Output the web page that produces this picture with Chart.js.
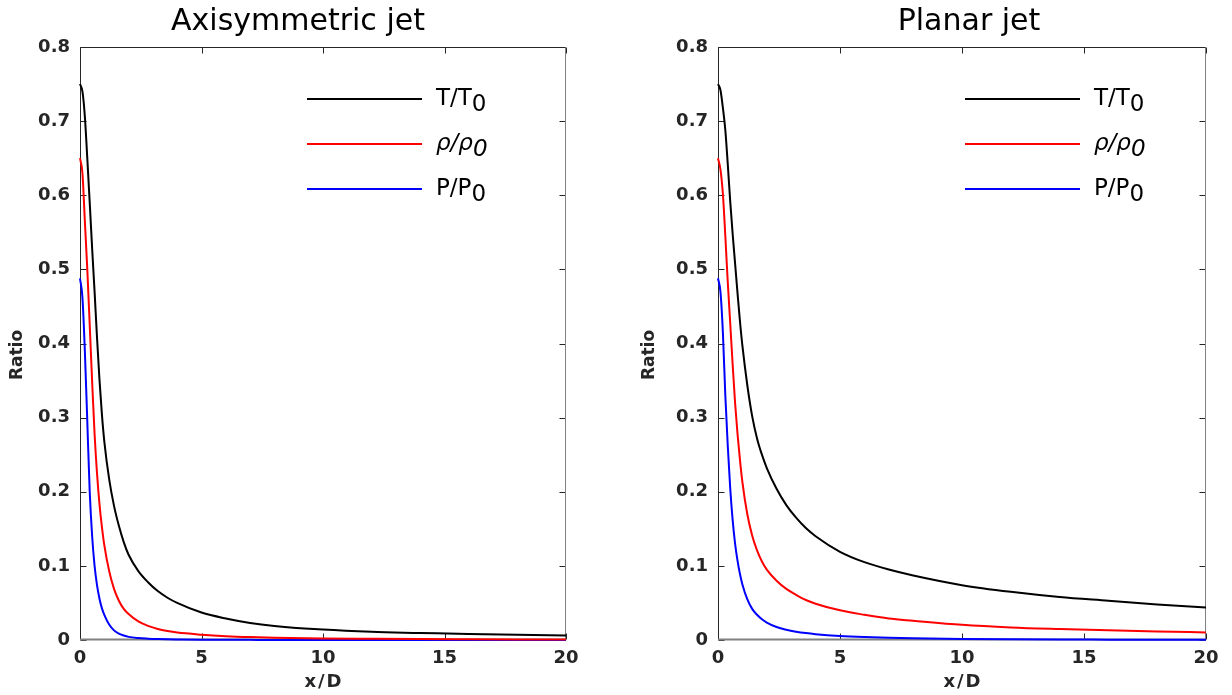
<!DOCTYPE html>
<html>
<head>
<meta charset="utf-8">
<script src="https://cdn.jsdelivr.net/npm/chart.js@4/dist/chart.umd.min.js"></script>
<style>
  body { margin: 0; background: #fff; }
  #wrap { position: relative; width: 1232px; height: 695px; }
  canvas { position: absolute; top: 0; }
</style>
</head>
<body>
<div id="wrap">
  <canvas id="axi" width="616" height="695" style="left:0"></canvas>
  <canvas id="planar" width="616" height="695" style="left:616px"></canvas>
</div>
<script>
// distance along the jet, x/D
var xD = [0, 0.1, 0.2, 0.3, 0.4, 0.5, 0.6, 0.7, 0.8, 0.9, 1.0,
          1.2, 1.4, 1.6, 1.8, 2.0, 2.4, 2.8, 3.2, 3.6, 4,
          5, 6, 7, 8, 10, 12, 14, 16, 18, 20];

// axisymmetric jet
var axiT   = [0.750, 0.740, 0.706, 0.650, 0.590, 0.528, 0.470, 0.408, 0.352, 0.305, 0.268,
              0.217, 0.181, 0.154, 0.132, 0.115, 0.093, 0.078, 0.066, 0.057, 0.050,
              0.037, 0.029, 0.023, 0.019, 0.014, 0.011, 0.0095, 0.008, 0.007, 0.006];
var axiRho = [0.650, 0.630, 0.565, 0.500, 0.425, 0.348, 0.278, 0.225, 0.184, 0.153, 0.128,
              0.093, 0.069, 0.053, 0.042, 0.035, 0.025, 0.019, 0.0148, 0.012, 0.010,
              0.0072, 0.0052, 0.0039, 0.0031, 0.0021, 0.0016, 0.0012, 0.0010, 0.0008, 0.0006];
var axiP   = [0.488, 0.462, 0.390, 0.295, 0.200, 0.140, 0.100, 0.074, 0.056, 0.043, 0.034,
              0.021, 0.013, 0.0085, 0.006, 0.0042, 0.0026, 0.0018, 0.0013, 0.001, 0.0008,
              0.0004, 0.0003, 0.0002, 0.0001, 0.0001, 0, 0, 0, 0, 0];

// planar jet
var planarT   = [0.750, 0.742, 0.718, 0.688, 0.642, 0.592, 0.548, 0.508, 0.468, 0.430, 0.397,
                 0.344, 0.302, 0.272, 0.250, 0.232, 0.204, 0.182, 0.165, 0.151, 0.140,
                 0.119, 0.105, 0.095, 0.087, 0.074, 0.065, 0.058, 0.053, 0.048, 0.044];
var planarRho = [0.650, 0.635, 0.602, 0.545, 0.483, 0.428, 0.372, 0.320, 0.278, 0.243, 0.213,
                 0.170, 0.141, 0.121, 0.106, 0.095, 0.080, 0.069, 0.061, 0.054, 0.049,
                 0.040, 0.034, 0.029, 0.026, 0.0205, 0.017, 0.0148, 0.013, 0.0115, 0.0102];
var planarP   = [0.488, 0.470, 0.415, 0.330, 0.262, 0.205, 0.162, 0.130, 0.107, 0.089, 0.075,
                 0.055, 0.042, 0.034, 0.028, 0.0235, 0.0175, 0.0138, 0.0112, 0.0093, 0.0079,
                 0.0055, 0.004, 0.003, 0.0023, 0.0014, 0.0009, 0.0006, 0.0005, 0.0004, 0.0003];

var xTicks = [0, 5, 10, 15, 20];
var yTicks = [0, 0.1, 0.2, 0.3, 0.4, 0.5, 0.6, 0.7, 0.8];

// legend text: ratio name, subscript, italic
var seriesNames  = ['T/T', '\u03c1/\u03c1', 'P/P'];
var seriesSub    = ['0', '0', '0'];
var seriesItalic = [false, true, false];
var seriesColors = ['#000000', '#ff0000', '#0000ff'];

var FONT = '"DejaVu Sans", Verdana, sans-serif';

function pairs(ys) {
  return xD.map(function(x, i) { return { x: x, y: ys[i] }; });
}

// box, inward ticks, titles and the legend (matlab style)
var jetFrame = {
  id: 'jetFrame',
  beforeDatasetsDraw: function(chart) {
    var ctx = chart.ctx, a = chart.chartArea;
    var xs = chart.scales.x, ys = chart.scales.y;
    var L = Math.round(a.left) + 0.5, R = Math.round(a.right) - 0.5;
    var T = Math.round(a.top) + 0.5, B = Math.round(a.bottom) - 0.5;
    ctx.save();
    ctx.strokeStyle = '#262626';
    ctx.lineWidth = 1;
    ctx.beginPath();
    xTicks.forEach(function(v) {
      var px = Math.round(xs.getPixelForValue(v)) + 0.5;
      ctx.moveTo(px, B); ctx.lineTo(px, B - 6);
      ctx.moveTo(px, T); ctx.lineTo(px, T + 6);
    });
    yTicks.forEach(function(v) {
      var py = Math.round(ys.getPixelForValue(v)) + 0.5;
      ctx.moveTo(L, py); ctx.lineTo(L + 6, py);
      ctx.moveTo(R, py); ctx.lineTo(R - 6, py);
    });
    ctx.moveTo(L, B); ctx.lineTo(L, T); ctx.lineTo(R, T);
    ctx.stroke();
    ctx.strokeStyle = '#808080';
    ctx.beginPath();
    ctx.moveTo(R, T); ctx.lineTo(R, B);
    ctx.stroke();
    ctx.lineWidth = 2;
    ctx.beginPath();
    ctx.moveTo(L - 0.5, B); ctx.lineTo(R + 0.5, B);
    ctx.stroke();
    ctx.restore();
  },
  afterDraw: function(chart, args, opts) {
    var ctx = chart.ctx, a = chart.chartArea;
    ctx.save();
    // title
    ctx.fillStyle = '#000';
    ctx.font = '30px ' + FONT;
    ctx.textAlign = 'center';
    ctx.textBaseline = 'alphabetic';
    ctx.fillText(opts.title, opts.titleX, 30);

    // axis titles
    ctx.fillStyle = '#262626';
    ctx.textBaseline = 'middle';
    ctx.font = 'bold 18px ' + FONT;
    ctx.letterSpacing = '2px';
    ctx.fillText('x/D', (a.left + a.right) / 2 + 1, 682);
    ctx.letterSpacing = '0px';
    ctx.font = 'bold 17px ' + FONT;
    ctx.save();
    ctx.translate(opts.ratioX, 355);
    ctx.rotate(-Math.PI / 2);
    ctx.fillText('Ratio', 0, 0);
    ctx.restore();

    // legend
    ctx.textAlign = 'left';
    ctx.textBaseline = 'alphabetic';
    chart.data.datasets.forEach(function(ds, i) {
      var ly = 99 + i * 45;
      ctx.strokeStyle = ds.borderColor;
      ctx.lineWidth = 2;
      ctx.beginPath();
      ctx.moveTo(opts.legendX, ly);
      ctx.lineTo(opts.legendX + 115, ly);
      ctx.stroke();
      ctx.fillStyle = '#000';
      ctx.font = (seriesItalic[i] ? 'italic ' : '') + '23px ' + FONT;
      var tx = opts.legendX + 129;
      ctx.fillText(seriesNames[i], tx, ly + 6);
      var w = ctx.measureText(seriesNames[i]).width;
      ctx.fillText(seriesSub[i], tx + w, ly + 12);
    });
    ctx.restore();
  }
};

function makeChart(id, T, rho, P, frameOpts, padLeft, padRight) {
  var values = [T, rho, P];
  var ctx = document.getElementById(id).getContext('2d');
  return new Chart(ctx, {
    type: 'line',
    data: {
      datasets: values.map(function(v, i) {
        return {
          label: seriesNames[i] + seriesSub[i],
          data: pairs(v),
          borderColor: seriesColors[i],
          borderWidth: 2,
          pointRadius: 0,
          cubicInterpolationMode: 'monotone',
          clip: 3
        };
      })
    },
    options: {
      responsive: false,
      animation: false,
      layout: { padding: { top: 47, right: padRight, bottom: 0, left: padLeft } },
      plugins: {
        legend: { display: false },
        tooltip: { enabled: false },
        jetFrame: frameOpts
      },
      scales: {
        x: {
          type: 'linear', min: 0, max: 20,
          grid: { display: false, drawTicks: false },
          border: { display: false },
          afterBuildTicks: function(s) { s.ticks = xTicks.map(function(v) { return { value: v }; }); },
          afterFit: function(s) { s.height = 55; },
          ticks: {
            padding: 8, color: '#262626', maxRotation: 0,
            font: { family: FONT, weight: 'bold', size: 18 },
            callback: function(v) { return String(v); }
          }
        },
        y: {
          type: 'linear', min: 0, max: 0.8,
          grid: { display: false, drawTicks: false },
          border: { display: false },
          afterBuildTicks: function(s) { s.ticks = yTicks.map(function(v) { return { value: v }; }); },
          afterFit: function(s) { s.width = 80; },
          ticks: {
            padding: 10, color: '#262626',
            font: { family: FONT, weight: 'bold', size: 18 },
            callback: function(v) { return v === 0 ? '0' : v.toFixed(1); }
          }
        }
      }
    },
    plugins: [jetFrame]
  });
}

makeChart('axi', axiT, axiRho, axiP,
  { title: 'Axisymmetric jet', titleX: 298, ratioX: 18, legendX: 307 }, 0, 50);
makeChart('planar', planarT, planarRho, planarP,
  { title: 'Planar jet', titleX: 353, ratioX: 34, legendX: 349 }, 22, 26);
</script>
</body>
</html>
